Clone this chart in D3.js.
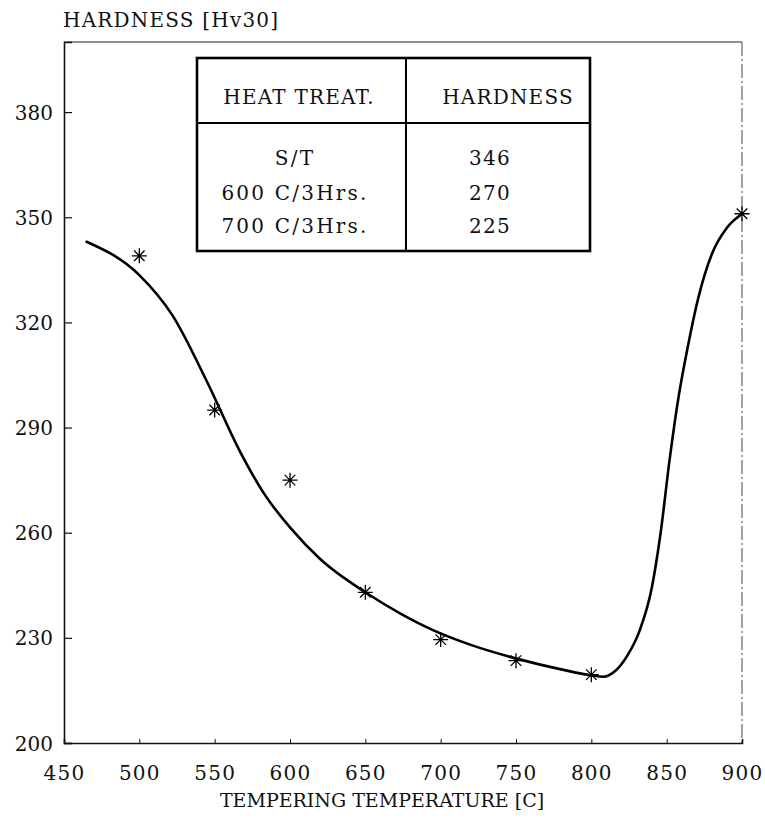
<!DOCTYPE html>
<html>
<head>
<meta charset="utf-8">
<script src="https://cdn.jsdelivr.net/npm/d3@7"></script>
<style>
  body { margin: 0; background: #fff; }
  svg text { font-family: "DejaVu Serif", "Liberation Serif", serif; fill: #111; }
</style>
</head>
<body>
<svg id="chart"></svg>
<script>
// measured points (stars)
var pointTemps = [500, 550, 600, 650, 700, 750, 800, 900];
var pointHardness = [339, 295, 275, 243, 229.5, 223.5, 219.5, 351];

// fitted curve
var curveTemps = [465, 500, 522, 545, 567, 583, 600, 620, 650, 673, 696, 720, 751, 780, 800, 808, 816, 824, 832, 840, 846, 852, 858, 864, 871, 880, 890, 900];
var curveHardness = [343, 333.5, 322, 303, 283, 271, 261.5, 252.5, 243, 237, 232, 228, 224, 221, 219.3, 218.9, 220.6, 225, 232, 244, 260, 281, 299, 313, 327, 339.5, 347, 351];

var xTicks = [450, 500, 550, 600, 650, 700, 750, 800, 850, 900];
var yTicks = [200, 230, 260, 290, 320, 350, 380];

// table inside the plot
var tableHeaders = ['HEAT TREAT.', 'HARDNESS'];
var tableTreatments = ['S/T', '600 C/3Hrs.', '700 C/3Hrs.'];
var tableHardness = ['346', '270', '225'];

(function () {
    'use strict';
    var config = {
        width: 765,
        height: 839,
        left: 64,
        top: 42,
        right: 742,
        bottom: 743,
        fontSize: '20px',
        spacing: '1.2px'
    };

    var svg = d3.select('#chart')
        .attr('width', config.width)
        .attr('height', config.height);

    var x = d3.scaleLinear().domain([450, 900]).range([config.left, config.right]);
    var y = d3.scaleLinear().domain([200, 400]).range([config.bottom, config.top]);

    // frame
    svg.append('line')
        .attr('x1', config.left).attr('y1', config.top)
        .attr('x2', config.right).attr('y2', config.top)
        .attr('stroke', '#222').attr('stroke-width', 1.2);
    svg.append('line')
        .attr('x1', config.right).attr('y1', config.top)
        .attr('x2', config.right).attr('y2', config.bottom)
        .attr('stroke', '#444').attr('stroke-width', 1)
        .attr('stroke-dasharray', '14,3,2,3');

    // y axis (ticks inward)
    var yAxis = d3.axisLeft(y).tickValues(yTicks).tickSize(-8).tickPadding(11);
    var gy = svg.append('g')
        .attr('transform', 'translate(' + config.left + ',0)')
        .call(yAxis);

    // x axis (small ticks inward)
    var xAxis = d3.axisBottom(x).tickValues(xTicks).tickSize(-4).tickPadding(23);
    var gx = svg.append('g')
        .attr('transform', 'translate(0,' + config.bottom + ')')
        .call(xAxis);

    [gx, gy].forEach(function (g) {
        g.select('.domain').attr('stroke', '#111').attr('stroke-width', 1.6);
        g.selectAll('.tick line').attr('stroke', '#111').attr('stroke-width', 1.2);
        g.selectAll('.tick text')
            .attr('fill', '#111')
            .style('font-family', '"DejaVu Serif", serif')
            .style('font-size', config.fontSize)
            .style('letter-spacing', config.spacing);
    });
    gy.selectAll('.tick text').attr('dy', '0.35em').style('letter-spacing', '0px');
    gx.selectAll('.tick line').attr('stroke-width', 1);

    // axis titles
    svg.append('text')
        .attr('x', 63).attr('y', 27)
        .style('font-size', config.fontSize)
        .style('letter-spacing', config.spacing)
        .text('HARDNESS [Hv30]');
    svg.append('text')
        .attr('x', (222 + 542) / 2).attr('y', 807)
        .attr('text-anchor', 'middle')
        .style('font-size', '19px')
        .style('letter-spacing', '0px')
        .text('TEMPERING TEMPERATURE [C]');

    // curve
    var curveData = curveTemps.map(function (t, i) { return [t, curveHardness[i]]; });
    var line = d3.line()
        .x(function (d) { return x(d[0]); })
        .y(function (d) { return y(d[1]); })
        .curve(d3.curveMonotoneX);
    svg.append('path')
        .datum(curveData)
        .attr('d', line)
        .attr('fill', 'none')
        .attr('stroke', '#000')
        .attr('stroke-width', 2.6)
        .attr('stroke-linecap', 'round');

    // star markers
    var r = 7.5;
    var starPath = 'M' + (-r) + ',0L' + r + ',0' +
        'M0,' + (-r) + 'L0,' + r +
        'M' + (-r * 0.7) + ',' + (-r * 0.7) + 'L' + (r * 0.7) + ',' + (r * 0.7) +
        'M' + (-r * 0.7) + ',' + (r * 0.7) + 'L' + (r * 0.7) + ',' + (-r * 0.7);
    svg.selectAll('path.star')
        .data(pointTemps.map(function (t, i) { return [t, pointHardness[i]]; }))
        .enter()
        .append('path')
        .attr('class', 'star')
        .attr('d', starPath)
        .attr('transform', function (d) { return 'translate(' + x(d[0]) + ',' + y(d[1]) + ')'; })
        .attr('stroke', '#000')
        .attr('stroke-width', 1.3)
        .attr('fill', 'none');

    // table box
    var tbl = { x0: 197, x1: 590, xMid: 406, y0: 58, yHead: 123, y1: 251 };
    var table = svg.append('g');
    table.append('rect')
        .attr('x', tbl.x0).attr('y', tbl.y0)
        .attr('width', tbl.x1 - tbl.x0).attr('height', tbl.y1 - tbl.y0)
        .attr('fill', '#fff').attr('stroke', '#000').attr('stroke-width', 2.6);
    table.append('line')
        .attr('x1', tbl.x0).attr('x2', tbl.x1)
        .attr('y1', tbl.yHead).attr('y2', tbl.yHead)
        .attr('stroke', '#000').attr('stroke-width', 2);
    table.append('line')
        .attr('x1', tbl.xMid).attr('x2', tbl.xMid)
        .attr('y1', tbl.y0).attr('y2', tbl.y1)
        .attr('stroke', '#000').attr('stroke-width', 2);

    var colCenters = [299, 508];
    table.selectAll('text.head')
        .data(tableHeaders)
        .enter()
        .append('text')
        .attr('class', 'head')
        .attr('x', function (d, i) { return colCenters[i]; })
        .attr('y', 97)
        .attr('dy', '0.35em')
        .attr('text-anchor', 'middle')
        .style('font-size', config.fontSize)
        .style('letter-spacing', config.spacing)
        .text(function (d) { return d; });

    var rowY = [158, 193, 226];
    table.selectAll('text.treat')
        .data(tableTreatments)
        .enter()
        .append('text')
        .attr('class', 'treat')
        .attr('x', 295)
        .attr('y', function (d, i) { return rowY[i]; })
        .attr('dy', '0.35em')
        .attr('text-anchor', 'middle')
        .style('font-size', config.fontSize)
        .style('letter-spacing', '2.2px')
        .text(function (d) { return d; });
    table.selectAll('text.hard')
        .data(tableHardness)
        .enter()
        .append('text')
        .attr('class', 'hard')
        .attr('x', 490)
        .attr('y', function (d, i) { return rowY[i]; })
        .attr('dy', '0.35em')
        .attr('text-anchor', 'middle')
        .style('font-size', config.fontSize)
        .style('letter-spacing', config.spacing)
        .text(function (d) { return d; });
})();
</script>
</body>
</html>
